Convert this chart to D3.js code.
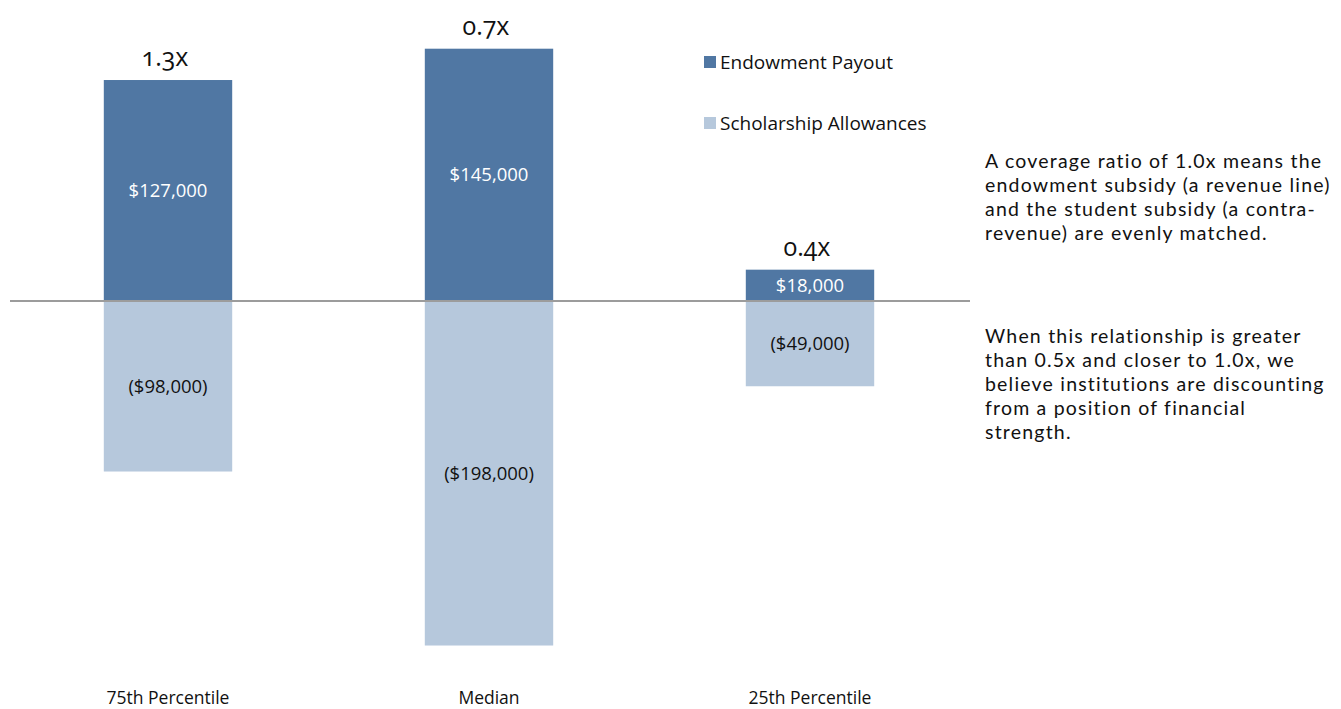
<!DOCTYPE html>
<html>
<head>
<meta charset="utf-8">
<script src="https://cdn.jsdelivr.net/npm/d3@7"></script>
<style>
  body { margin: 0; background: #fff; }
  text { font-family: "Open Sans", "DejaVu Sans", sans-serif; }
  .ratio { font-variant-numeric: oldstyle-nums; font-feature-settings: "onum" 1; }
  .note { font-family: Lato, "Open Sans", sans-serif; letter-spacing: 1.2px; }
</style>
</head>
<body>
<div id="chart-root"></div>
<script>
// data
var categories = ["75th Percentile", "Median", "25th Percentile"];
var payout = [127000, 145000, 18000];
var allowances = [-98000, -198000, -49000];
var ratios = ["1.3x", "0.7x", "0.4x"];
var seriesNames = ["Endowment Payout", "Scholarship Allowances"];
var notes = [
    ["A coverage ratio of 1.0x means the", "endowment subsidy (a revenue line)", "and the student subsidy (a contra-", "revenue) are evenly matched."],
    ["When this relationship is greater", "than 0.5x and closer to 1.0x, we", "believe institutions are discounting", "from a position of financial", "strength."]
];

var width = 1341, height = 709;
var colors = ["#5077a3", "#b6c8dc"];

var svg = d3.select("#chart-root")
    .append("svg")
    .attr("width", width)
    .attr("height", height);

var x = d3.scaleBand()
    .domain(categories)
    .range([7.5, 970.5])
    .paddingInner(0.6)
    .paddingOuter(0.3);

var y = d3.scaleLinear()
    .domain([-200000, 150000])
    .range([649, 40]);

var fmt = d3.format("$,");
function label(v) { return v < 0 ? "(" + fmt(-v) + ")" : fmt(v); }

var rows = categories.map(function (c, i) {
    return { cat: c, pos: payout[i], neg: allowances[i], ratio: ratios[i] };
});

// negative bars
svg.append("g").selectAll("rect")
    .data(rows)
    .enter().append("rect")
    .attr("x", function (d) { return x(d.cat); })
    .attr("width", x.bandwidth())
    .attr("y", y(0))
    .attr("height", function (d) { return y(d.neg) - y(0); })
    .attr("fill", colors[1]);

// positive bars
svg.append("g").selectAll("rect")
    .data(rows)
    .enter().append("rect")
    .attr("x", function (d) { return x(d.cat); })
    .attr("width", x.bandwidth())
    .attr("y", function (d) { return y(d.pos); })
    .attr("height", function (d) { return y(0) - y(d.pos); })
    .attr("fill", colors[0]);

// zero line
svg.append("line")
    .attr("x1", 10).attr("x2", 970)
    .attr("y1", y(0)).attr("y2", y(0))
    .attr("stroke", "#9c9c9c")
    .attr("stroke-width", 2);

// value labels
svg.append("g").selectAll("text")
    .data(rows)
    .enter().append("text")
    .attr("x", function (d) { return x(d.cat) + x.bandwidth() / 2; })
    .attr("y", function (d) { return (y(d.pos) + y(0)) / 2; })
    .attr("dy", "0.35em")
    .attr("text-anchor", "middle")
    .attr("fill", "#fff")
    .style("font-size", "18.5px")
    .text(function (d) { return label(d.pos); });

svg.append("g").selectAll("text")
    .data(rows)
    .enter().append("text")
    .attr("x", function (d) { return x(d.cat) + x.bandwidth() / 2; })
    .attr("y", function (d) { return (y(d.neg) + y(0)) / 2; })
    .attr("dy", "0.35em")
    .attr("text-anchor", "middle")
    .attr("fill", "#111")
    .style("font-size", "18.5px")
    .text(function (d) { return label(d.neg); });

// coverage ratios above bars
svg.append("g").selectAll("text")
    .data(rows)
    .enter().append("text")
    .attr("class", "ratio")
    .attr("x", function (d) { return x(d.cat) + x.bandwidth() / 2 - 3; })
    .attr("y", function (d) { return y(d.pos) - 14; })
    .attr("text-anchor", "middle")
    .attr("fill", "#111")
    .style("font-size", "25px")
    .text(function (d) { return d.ratio; });

// category labels
svg.append("g").selectAll("text")
    .data(categories)
    .enter().append("text")
    .attr("x", function (d) { return x(d) + x.bandwidth() / 2; })
    .attr("y", 704)
    .attr("text-anchor", "middle")
    .attr("fill", "#111")
    .style("font-size", "17.5px")
    .text(function (d) { return d; });

// legend
var legend = svg.append("g").attr("transform", "translate(704,0)");
legend.selectAll("rect")
    .data(seriesNames)
    .enter().append("rect")
    .attr("x", 0)
    .attr("y", function (d, i) { return 56 + i * 61; })
    .attr("width", 12).attr("height", 12)
    .attr("fill", function (d, i) { return colors[i]; });
legend.selectAll("text")
    .data(seriesNames)
    .enter().append("text")
    .attr("x", 16)
    .attr("y", function (d, i) { return 62 + i * 61; })
    .attr("dy", "0.35em")
    .attr("fill", "#111")
    .style("font-size", "19px")
    .text(function (d) { return d; });

// side notes
var noteTops = [161, 336];
notes.forEach(function (lines, k) {
    svg.append("g").selectAll("text")
        .data(lines)
        .enter().append("text")
        .attr("class", "note")
        .attr("x", 985)
        .attr("y", function (d, i) { return noteTops[k] + i * 24; })
        .attr("dy", "0.35em")
        .attr("fill", "#111")
        .style("font-size", "19.5px")
        .text(function (d) { return d; });
});
</script>
</body>
</html>
